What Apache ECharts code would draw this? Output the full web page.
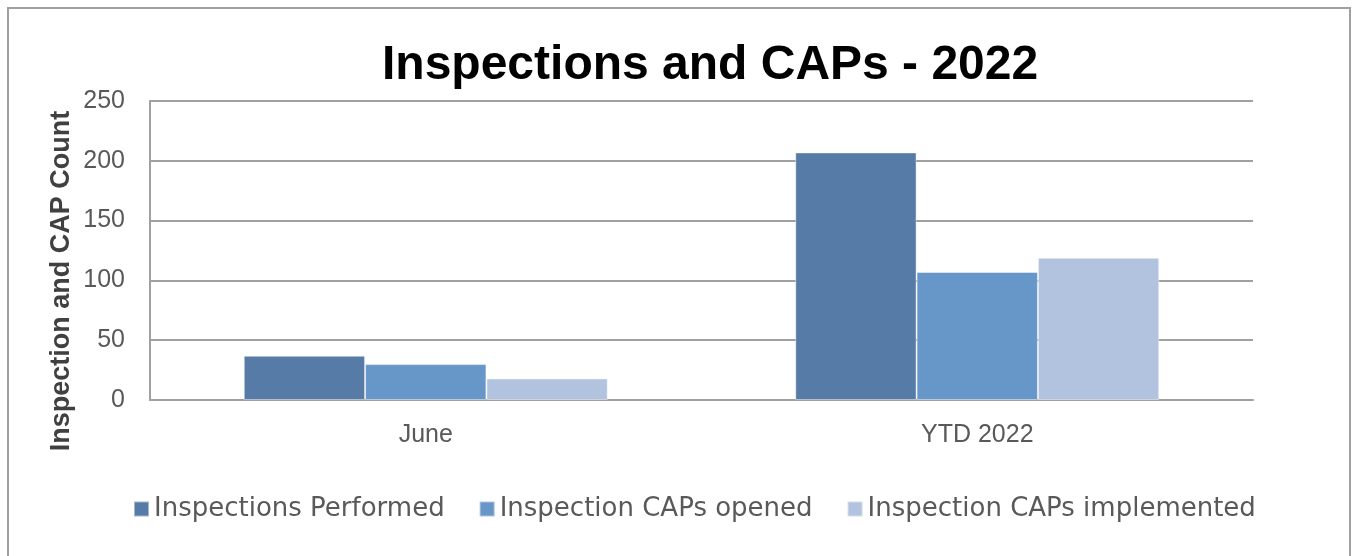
<!DOCTYPE html>
<html>
<head>
<meta charset="utf-8">
<script src="https://cdn.jsdelivr.net/npm/echarts@6/dist/echarts.min.js"></script>
<style>
  html, body { margin: 0; padding: 0; background: #fff; }
  #chart { width: 1354px; height: 556px; }
</style>
</head>
<body>
<div id="chart"></div>
<script>
// categories and series
var categories = ['June', 'YTD 2022'];
var performed = [37, 207];
var capsOpened = [30, 107];
var capsImplemented = [18, 119];
var seriesNames = ['Inspections Performed', 'Inspection CAPs opened', 'Inspection CAPs implemented'];
var colors = ['#567BA7', '#6796C8', '#B1C3DF'];

var myChart = echarts.init(document.getElementById('chart'));

var barStyle = { borderColor: 'rgba(255,255,255,0.45)', borderWidth: 1 };

var option = {
    animation: false,
    color: colors,
    title: {
        text: 'Inspections and CAPs - 2022',
        left: 377, top: 37,
        textStyle: { fontFamily: 'Liberation Sans', fontWeight: 'bold', fontSize: 48, color: '#000' }
    },
    legend: {
        data: seriesNames,
        left: 128, top: 491,
        itemWidth: 15, itemHeight: 15, itemGap: 34,
        icon: 'rect',
        textStyle: { fontFamily: 'DejaVu Sans', fontSize: 26, color: '#595959' }
    },
    grid: { left: 150, right: 101, top: 101, bottom: 156 },
    xAxis: {
        type: 'category',
        data: categories,
        axisLine: { lineStyle: { color: '#a0a0a0', width: 2 } },
        axisTick: { show: false },
        axisLabel: { margin: 23, fontFamily: 'Liberation Sans', fontSize: 25, color: '#595959' }
    },
    yAxis: {
        type: 'value',
        min: 0, max: 250, interval: 50,
        axisLine: { show: true, lineStyle: { color: '#a0a0a0', width: 2 } },
        axisTick: { show: false },
        axisLabel: { margin: 25, fontFamily: 'Liberation Sans', fontSize: 25, color: '#595959' },
        splitLine: { lineStyle: { color: '#a0a0a0', width: 2 } }
    },
    graphic: [
        {
            type: 'rect',
            shape: { x: 8, y: 8, width: 1342, height: 570 },
            style: { fill: 'none', stroke: '#a0a0a0', lineWidth: 2 },
            silent: true
        },
        {
            type: 'text',
            x: 62, y: 281,
            rotation: Math.PI / 2,
            style: {
                text: 'Inspection and CAP Count',
                fontFamily: 'Liberation Sans', fontWeight: 'bold', fontSize: 27,
                fill: '#404040', textAlign: 'center', textVerticalAlign: 'middle'
            }
        }
    ],
    series: [
        { name: seriesNames[0], type: 'bar', data: performed, barGap: '0%', barCategoryGap: '34%', itemStyle: barStyle },
        { name: seriesNames[1], type: 'bar', data: capsOpened, itemStyle: barStyle },
        { name: seriesNames[2], type: 'bar', data: capsImplemented, itemStyle: barStyle }
    ]
};
myChart.setOption(option);
window.addEventListener('resize', function () {
    myChart.resize();
});
</script>
</body>
</html>
